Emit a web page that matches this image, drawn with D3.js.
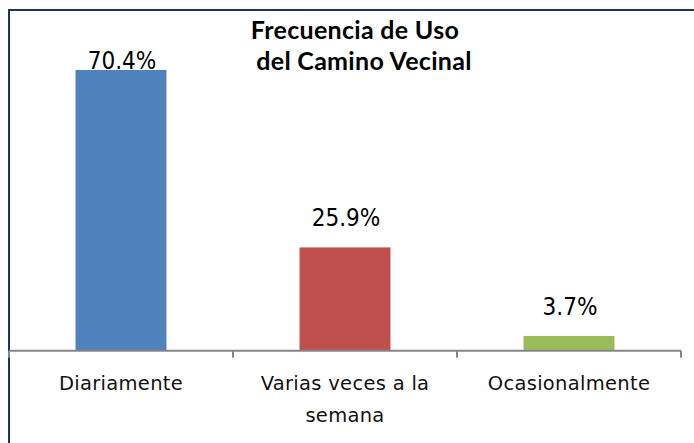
<!DOCTYPE html>
<html>
<head>
<meta charset="utf-8">
<script src="https://cdn.jsdelivr.net/npm/d3@7"></script>
<style>
  html, body { margin: 0; padding: 0; background: #fff; }
  svg { display: block; }
</style>
</head>
<body>
<div id="chart"></div>
<script>
// Frecuencia de uso del camino vecinal — simple Excel-style column chart
const categories = ['Diariamente', 'Varias veces a la semana', 'Ocasionalmente'];
const categoryLines = [['Diariamente'], ['Varias veces a la', 'semana'], ['Ocasionalmente']];
const values = [70.4, 25.9, 3.7];
const colors = ['#4F81BD', '#C0504D', '#9BBB59'];
const titleLines = ['Frecuencia de Uso', 'del Camino Vecinal'];

const W = 694, H = 443;
const PLOT = { left: 9, right: 681, top: 31.7, bottom: 350.7 };

const svg = d3.select('#chart').append('svg')
  .attr('width', W)
  .attr('height', H);

// chart area border (only top and left edges are visible in the crop)
svg.append('rect')
  .attr('x', 9).attr('y', 10)
  .attr('width', W + 10).attr('height', H + 10)
  .attr('fill', '#fff')
  .attr('stroke', '#1F3550')
  .attr('stroke-width', 2);

const x = d3.scaleBand().domain(categories).range([PLOT.left, PLOT.right]).padding(0);
const y = d3.scaleLinear().domain([0, 80]).range([PLOT.bottom, PLOT.top]);
const barW = x.bandwidth() * 0.406;

// bars
svg.append('g').selectAll('rect')
  .data(values)
  .join('rect')
  .attr('x', (d, i) => x(categories[i]) + x.bandwidth() / 2 - barW / 2)
  .attr('y', d => y(d))
  .attr('width', barW)
  .attr('height', d => y(0) - y(d))
  .attr('fill', (d, i) => colors[i]);

// category axis
const axis = svg.append('g').attr('transform', `translate(0,${y(0)})`);
axis.append('line')
  .attr('x1', PLOT.left).attr('x2', PLOT.right)
  .attr('stroke', '#868686').attr('stroke-width', 2);
axis.selectAll('line.tick')
  .data(categories.map(c => x(c)).concat([PLOT.right]))
  .join('line')
  .attr('class', 'tick')
  .attr('x1', d => d).attr('x2', d => d)
  .attr('y1', 0).attr('y2', 7)
  .attr('stroke', '#868686').attr('stroke-width', 2);

axis.selectAll('text.cat')
  .data(categoryLines)
  .join('text')
  .attr('class', 'cat')
  .attr('text-anchor', 'middle')
  .style('font-family', '"DejaVu Sans", Verdana, sans-serif')
  .style('font-size', '19.5px')
  .style('letter-spacing', '0.3px')
  .attr('fill', '#111')
  .each(function (lines, i) {
    const t = d3.select(this);
    lines.forEach((ln, j) => {
      t.append('tspan')
        .attr('x', x(categories[i]) + x.bandwidth() / 2)
        .attr('y', 39.5 + j * 32)
        .text(ln);
    });
  });

// value labels (Excel keeps the tallest one inside the plot)
svg.append('g').selectAll('text')
  .data(values)
  .join('text')
  .attr('x', (d, i) => x(categories[i]) + x.bandwidth() / 2 + 1)
  .attr('y', d => Math.max(y(d) - 21, 69))
  .attr('text-anchor', 'middle')
  .style('font-family', '"DejaVu Sans Condensed", "DejaVu Sans", sans-serif')
  .style('font-stretch', 'condensed')
  .style('font-size', '24px')
  .attr('fill', '#000')
  .text(d => d.toFixed(1) + '%');

// title
svg.append('g').selectAll('text')
  .data(titleLines)
  .join('text')
  .attr('x', (d, i) => i === 0 ? 355 : 364)
  .attr('y', (d, i) => 39 + i * 31)
  .attr('text-anchor', 'middle')
  .style('font-family', 'Lato, "Open Sans", sans-serif')
  .style('font-weight', 'bold')
  .style('font-size', '25px')
  .style('letter-spacing', '0.3px')
  .attr('fill', '#000')
  .text(d => d);
</script>
</body>
</html>
